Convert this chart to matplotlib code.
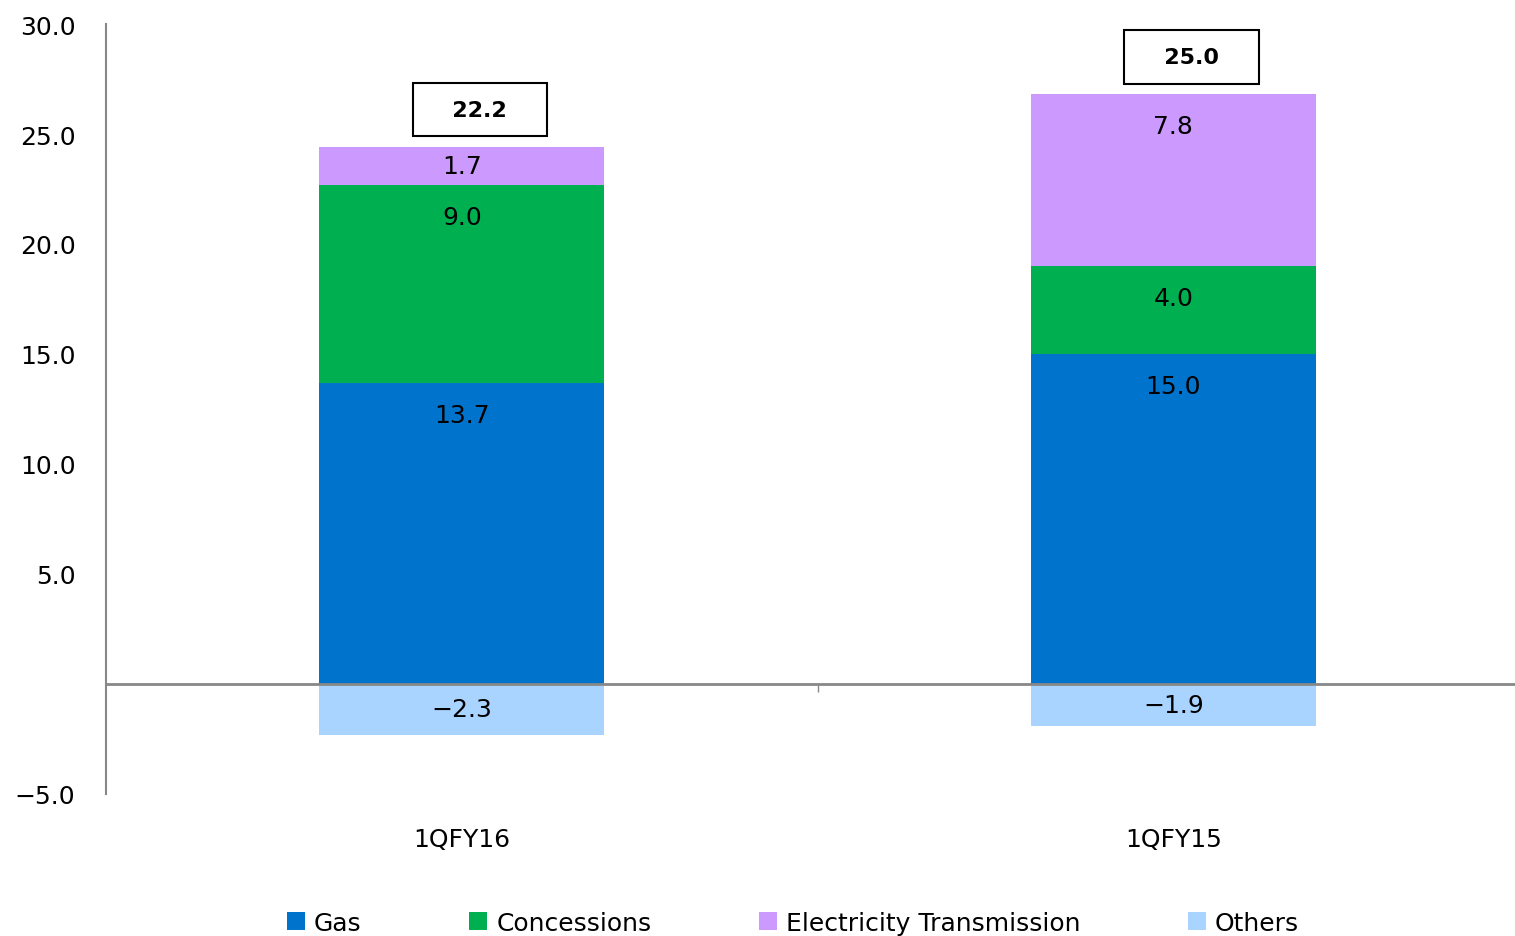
import matplotlib
matplotlib.use("Agg")
import matplotlib.pyplot as plt
import numpy as np

categories = ["1QFY16", "1QFY15"]
gas = [13.7, 15.0]
concessions = [9.0, 4.0]
electricity = [1.7, 7.8]
others = [-2.3, -1.9]
totals = [22.2, 25.0]
series_names = ["Gas", "Concessions", "Electricity Transmission", "Others"]
colors = ["#0073CC", "#00B050", "#CC99FF", "#A9D4FF"]
yticks = [-5, 5, 10, 15, 20, 25, 30]

plt.rcParams['font.family'] = ['DejaVu Sans']
FS = 18

fig = plt.figure(figsize=(15.15, 9.37), dpi=100)
ax = fig.add_axes([106/1515, 1-795/937, (1529-106)/1515, (795-25)/937])
ax.set_xlim(-0.5, 1.5)
ax.set_ylim(-5, 30)

x = np.arange(len(categories))
w = 0.40
pos_series = [gas, concessions, electricity]
bottoms = np.zeros(len(categories))
containers = []
segments = []
for vals, col, name in zip(pos_series, colors[:3], series_names[:3]):
    vals = np.array(vals)
    c = ax.bar(x, vals, w, bottom=bottoms, color=col, label=name, edgecolor='none', zorder=2)
    containers.append(c)
    for xi, b, v in zip(x, bottoms, vals):
        segments.append((xi, b, v))
    bottoms = bottoms + vals
pos_tops = bottoms.copy()
c = ax.bar(x, others, w, bottom=0, color=colors[3], label=series_names[3], edgecolor='none', zorder=2)
containers.append(c)
for xi, v in zip(x, others):
    segments.append((xi, 0.0, v))

# points per data unit
pt_per_unit = (770 / 35) * 0.72
for xi, b, v in segments:
    upper = max(b, b + v)
    off = min(23, abs(v) * pt_per_unit / 2)
    txt = f"{v:.1f}".replace('-', '\u2212')
    ax.annotate(txt, (xi, upper), xytext=(0, -off), textcoords='offset points',
                ha='center', va='center', fontsize=FS, color='black', zorder=3)

for xi, top, t in zip(x, pos_tops, totals):
    ax.annotate(f"   {t:.1f}   ", (xi, top), xytext=(13, 27), textcoords='offset points',
                ha='center', va='center', fontsize=16, fontweight='bold', color='black',
                bbox=dict(boxstyle='square,pad=0.75', facecolor='white', edgecolor='black', lw=1.5),
                zorder=4)

# axes styling
for s in ['top', 'right']:
    ax.spines[s].set_visible(False)
ax.spines['left'].set_color('#888888')
ax.spines['left'].set_linewidth(1.5)
ax.spines['bottom'].set_position(('data', 0))
ax.spines['bottom'].set_color('#888888')
ax.spines['bottom'].set_linewidth(2)
ax.spines['bottom'].set_zorder(5)

ax.set_yticks(yticks)
ax.set_yticklabels([f"{v:.1f}".replace('-', '\u2212') for v in yticks])
ax.tick_params(axis='y', length=0, pad=22, labelsize=FS)

ax.set_xticks(x)
ax.set_xticklabels(categories)
ax.set_xticks([0.5], minor=True)
ax.tick_params(axis='x', which='major', length=0, pad=103, labelsize=FS)
ax.tick_params(axis='x', which='minor', length=6, width=1, color='#888888', direction='out')

fig.legend(handles=containers, labels=series_names, loc='center',
           bbox_to_anchor=(793/1515, 1-924/937), ncol=4, frameon=False,
           fontsize=FS, columnspacing=4.3, handlelength=0.72, handleheight=0.72,
           handletextpad=0.36)

fig.savefig("out.png", dpi=100, facecolor='white')
